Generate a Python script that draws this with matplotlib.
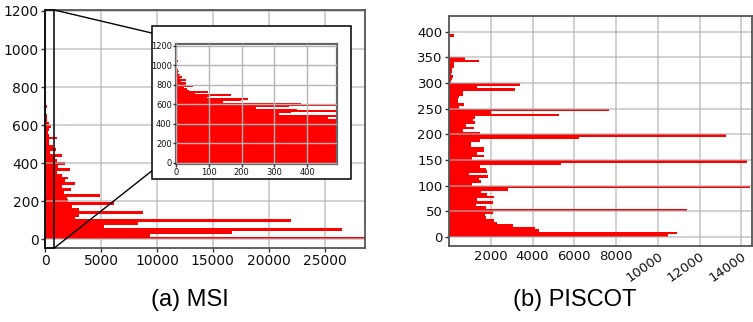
import matplotlib
matplotlib.use("Agg")
import matplotlib.pyplot as plt
from matplotlib.patches import Rectangle
from matplotlib.lines import Line2D

# ---------------- data ----------------
msi_bin_width = 15
msi_counts = [28600, 9400, 16700, 26500, 5300, 8300, 22000, 2700, 3000, 8800,
              3000, 2400, 6200, 2100, 2000, 4900, 1700, 2300, 1500, 2700,
              1800, 2100, 1500, 1100, 2200, 1200, 1800, 1100, 900, 1500,
              463, 1000, 700, 315, 352, 1100, 368, 245, 346, 520,
              380, 142, 199, 220, 96, 102, 168, 59, 98, 40,
              35, 25, 52, 30, 30, 16, 30, 12, 18, 8,
              11, 6, 8, 5, 4, 3, 6, 3, 2, 5,
              4, 2, 2, 1, 2, 1, 1, 1, 1, 1]

piscot_bin_width = 5
piscot_counts = [10490, 10910, 4315, 4124, 3078, 2301, 2175, 1750, 1715, 2127,
                 11400, 1780, 1270, 2127, 1350, 2160, 1840, 1510, 2825, 14395,
                 1080, 1540, 1445, 1870, 970, 1825, 1780, 1490, 5345, 14285,
                 1110, 1680, 1350, 1680, 1680, 1050, 1065, 1490, 6200, 13240,
                 1490, 680, 1200, 808, 1238, 1125, 1238, 5250, 2000, 7650,
                 490, 728, 411, 411, 460, 665, 665, 3160, 1330, 3400,
                 80, 125, 190, 95, 125, 157, 220, 252, 1443, 776,
                 0, 60, 0, 0, 0, 0, 0, 0, 255, 0]

msi_y = [i * msi_bin_width for i in range(len(msi_counts))]
piscot_y = [i * piscot_bin_width for i in range(len(piscot_counts))]

msi_xticks = [0, 5000, 10000, 15000, 20000, 25000]
msi_yticks = [0, 200, 400, 600, 800, 1000, 1200]
inset_xticks = [0, 100, 200, 300, 400]
piscot_xticks = [2000, 4000, 6000, 8000, 10000, 12000, 14000]
piscot_yticks = [0, 50, 100, 150, 200, 250, 300, 350, 400]
captions = ["(a) MSI", "(b) PISCOT"]

# ---------------- style helpers ----------------
RED = "#ff0000"
GRID = "#c8c8c8"
SPINE = "#555555"


def style(ax, fs, lw=1.3):
    ax.set_axisbelow(True)
    ax.grid(True, axis="x", color=GRID, lw=1.2)
    for s in ax.spines.values():
        s.set_color(SPINE)
        s.set_linewidth(lw)
    ax.tick_params(labelsize=fs, length=3, width=1, color="#333333",
                   pad=1.5, labelcolor="#111111")


def hgrid_over(ax, ticks):
    # horizontal grid lines drawn over the bars (semi-transparent)
    for t in ticks:
        ax.axhline(t, color=(0.70, 0.70, 0.70), alpha=0.7, lw=1.2, zorder=2.5)


fig = plt.figure(figsize=(7.53, 3.22), dpi=100)

# ---------------- (a) MSI ----------------
axA = fig.add_axes([45 / 753, 1 - 248 / 322, 320 / 753, 238 / 322], zorder=0)
axA.barh(msi_y, msi_counts, height=msi_bin_width, align="edge",
         color=RED, lw=0, zorder=2)
axA.set_xlim(0, max(msi_counts))
axA.set_ylim(-45, 1205)
axA.set_xticks(msi_xticks)
axA.set_yticks(msi_yticks)
style(axA, 10)
hgrid_over(axA, msi_yticks)

# zoom rectangle on main axes
ZOOM_W = 830
y0, y1 = axA.get_ylim()
axA.add_patch(Rectangle((0, y0), ZOOM_W, y1 - y0, fill=False,
                        edgecolor="black", lw=1.1, zorder=5, clip_on=False))

# white frame holding the inset
box_l, box_r = 151.7 / 753, 350.7 / 753
box_b, box_t = 1 - 179.3 / 322, 1 - 25.7 / 322
fig.patches.append(Rectangle((box_l, box_b), box_r - box_l, box_t - box_b,
                             transform=fig.transFigure, facecolor="white",
                             edgecolor="black", lw=1.1, zorder=1.5))

# connector lines
fig.canvas.draw()
to_fig = fig.transFigure.inverted()
p_top = to_fig.transform(axA.transData.transform((ZOOM_W, y1)))
p_bot = to_fig.transform(axA.transData.transform((ZOOM_W, y0)))
fig.lines.append(Line2D([p_top[0], box_l], [p_top[1], 1 - 33 / 322],
                        transform=fig.transFigure, color="black", lw=1.0, zorder=1))
fig.lines.append(Line2D([p_bot[0], box_l], [p_bot[1], 1 - 171 / 322],
                        transform=fig.transFigure, color="black", lw=1.0, zorder=1))

# inset
axI = fig.add_axes([176 / 753, 1 - 164.3 / 322, 160.7 / 753, 120 / 322], zorder=2)
axI.barh(msi_y, msi_counts, height=msi_bin_width, align="edge",
         color=RED, lw=0, zorder=2)
axI.set_xlim(0, 490)
axI.set_ylim(-15, 1215)
axI.set_xticks(inset_xticks)
axI.set_yticks(msi_yticks)
for s in axI.spines.values():
    s.set_color("#666666")
    s.set_linewidth(1.6)
axI.set_axisbelow(False)
axI.grid(True, color="#b4b4b4", lw=1.0)
axI.tick_params(labelsize=6, length=2, width=1, color="#333333", pad=1,
                labelcolor="#111111")

# ---------------- (b) PISCOT ----------------
axB = fig.add_axes([449 / 753, 1 - 245.7 / 322, 302.5 / 753, 230 / 322])
axB.barh(piscot_y, piscot_counts, height=piscot_bin_width, align="edge",
         color=RED, lw=0, zorder=2)
axB.set_xlim(0, 14480)
axB.set_ylim(-17, 431)
axB.set_xticks(piscot_xticks)
axB.set_yticks(piscot_yticks)
style(axB, 9.5)
axB.tick_params(axis="x", length=0, pad=3)
labels = axB.set_xticklabels([str(v) for v in piscot_xticks])
for v, lab in zip(piscot_xticks, labels):
    if v >= 10000:
        lab.set_rotation(35)
        lab.set_ha("right")
        lab.set_va("top")
        lab.set_rotation_mode("anchor")
hgrid_over(axB, piscot_yticks)

# ---------------- captions ----------------
fig.text(190 / 753, 1 - 300 / 322, captions[0], ha="center", va="center",
         fontsize=17, family="Liberation Sans")
fig.text(575 / 753, 1 - 300 / 322, captions[1], ha="center", va="center",
         fontsize=17, family="Liberation Sans")

fig.savefig("out.png", dpi=100)
